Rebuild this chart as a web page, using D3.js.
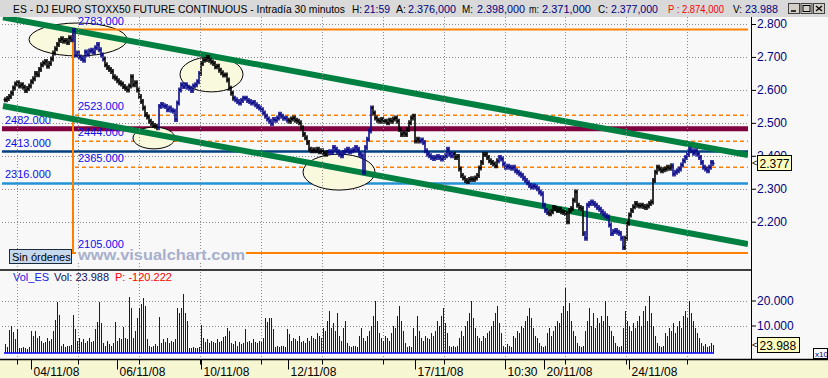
<!DOCTYPE html>
<html>
<head>
<meta charset="utf-8">
<script src="https://cdn.jsdelivr.net/npm/d3@7"></script>
<style>
  body { margin: 0; background: #f8f8f8; overflow: hidden; }
  text { font-family: "Liberation Sans", Arial, sans-serif; }
</style>
</head>
<body>
<svg id="chart" width="828" height="378"></svg>
<script>
'use strict';

// ------------------------------------------------------------
// data (30 minute bars, 03/11/08 - 25/11/08)
// ------------------------------------------------------------
const closes = [
  2570, 2574, 2580, 2590, 2606, 2618, 2622, 2612, 2616, 2608,
  2598, 2604, 2612, 2625, 2634, 2650, 2646, 2662, 2676, 2682,
  2686, 2672, 2680, 2694, 2712, 2725, 2738, 2750, 2755, 2748,
  2750, 2744, 2758, 2752, 2780, 2706, 2712, 2700, 2695, 2690,
  2715, 2708, 2718, 2720, 2714, 2728, 2738, 2722, 2706, 2694,
  2676, 2668, 2662, 2656, 2640, 2635, 2628, 2622, 2618, 2610,
  2605, 2600, 2612, 2640, 2616, 2622, 2600, 2580, 2565, 2545,
  2525, 2518, 2505, 2498, 2492, 2490, 2485, 2550, 2556, 2552,
  2550, 2540, 2545, 2538, 2535, 2510, 2560, 2600, 2616, 2610,
  2616, 2608, 2605, 2598, 2612, 2616, 2625, 2650, 2680, 2690,
  2692, 2698, 2690, 2685, 2680, 2670, 2672, 2660, 2652, 2645,
  2645, 2630, 2605, 2590, 2575, 2570, 2565, 2560, 2568, 2575,
  2575, 2568, 2565, 2560, 2562, 2555, 2550, 2545, 2540, 2530,
  2520, 2512, 2505, 2498, 2510, 2508, 2515, 2526, 2520, 2514,
  2514, 2508, 2505, 2512, 2515, 2508, 2505, 2500, 2485, 2465,
  2455, 2440, 2420, 2415, 2418, 2415, 2420, 2412, 2415, 2408,
  2405, 2410, 2412, 2410, 2425, 2420, 2412, 2405, 2400, 2410,
  2415, 2420, 2412, 2415, 2418, 2425, 2420, 2405, 2400, 2350,
  2425, 2450, 2475, 2545, 2530, 2515, 2508, 2505, 2510, 2505,
  2505, 2500, 2508, 2505, 2512, 2515, 2505, 2480, 2465, 2470,
  2465, 2480, 2500, 2515, 2520, 2445, 2450, 2445, 2448, 2440,
  2415, 2405, 2400, 2395, 2392, 2395, 2398, 2395, 2390, 2395,
  2400, 2420, 2405, 2400, 2405, 2395, 2398, 2360, 2340, 2333,
  2325, 2322, 2328, 2330, 2328, 2333, 2340, 2363, 2380, 2404,
  2404, 2395, 2385, 2380, 2375, 2370, 2385, 2395, 2390, 2375,
  2365, 2368, 2365, 2362, 2365, 2355, 2350, 2345, 2340, 2332,
  2325, 2318, 2310, 2305, 2308, 2305, 2300, 2290, 2285, 2250,
  2234, 2228, 2224, 2230, 2243, 2240, 2234, 2238, 2230, 2228,
  2225, 2200, 2234, 2240, 2265, 2290, 2250, 2243, 2240, 2164,
  2150, 2250, 2255, 2260, 2255, 2250, 2243, 2238, 2230, 2224,
  2218, 2214, 2190, 2164, 2170, 2173, 2168, 2164, 2150, 2122,
  2150, 2195, 2220, 2234, 2245, 2255, 2250, 2248, 2250, 2246,
  2243, 2248, 2255, 2260, 2325, 2350, 2365, 2360, 2355, 2358,
  2360, 2365, 2362, 2370, 2345, 2350, 2355, 2360, 2372, 2385,
  2395, 2404, 2420, 2415, 2408, 2415, 2405, 2395, 2380, 2365,
  2360, 2355, 2365, 2380, 2377
];

// volume in panel units (x10)
const volumes = [
  2800, 1500, 8400, 10000, 7600, 4500, 8800, 1200, 1000, 1500,
  1200, 800, 1500, 8000, 6000, 8000, 5000, 6000, 4000, 3000,
  3500, 5000, 4000, 4500, 8000, 12400, 19300, 14400, 2000, 2500,
  1500, 2000, 1800, 2200, 14400, 8800, 4000, 5000, 3500, 4500,
  3000, 4000, 5000, 3500, 4000, 8800, 11600, 19300, 11000, 3000,
  2000, 4000, 2500, 2000, 3000, 11600, 4000, 5000, 4500, 9500,
  5000, 4500, 21500, 17200, 5000, 8000, 13000, 17000, 18500, 21000,
  18000, 4500, 2000, 1500, 2000, 2500, 1800, 13600, 3000, 4500,
  3500, 5000, 3000, 4000, 3500, 4500, 17200, 15000, 17200, 22800,
  15000, 12000, 1200, 1000, 1500, 1200, 1000, 1500, 10400, 5000,
  3500, 4500, 3000, 4000, 3500, 3000, 4500, 3500, 4000, 5500,
  6000, 9000, 8000, 3000, 2500, 4000, 2000, 3500, 2500, 3000,
  8500, 3500, 4000, 3000, 4500, 3500, 3000, 4000, 3500, 5000,
  13000, 11600, 13000, 13000, 8500, 1500, 2000, 1500, 2000, 1800,
  1500, 8500, 6500, 4000, 5000, 4500, 4000, 6000, 3500, 4000,
  3000, 5000, 4000, 6000, 5000, 4500, 7000, 6000, 5000, 9000,
  8000, 12000, 16000, 9000, 11000, 8000, 15000, 6000, 4000, 9000,
  12000, 3000, 2000, 1500, 2000, 1800, 1500, 6000, 9000, 5000,
  4000, 6000, 8000, 10000, 14000, 20000, 12000, 7000, 5000, 4000,
  6000, 5000, 4000, 7000, 10000, 9000, 14000, 18000, 12000, 8000,
  3000, 1500, 2000, 1500, 9000, 6000, 14000, 8000, 5000, 4000,
  6000, 5000, 4500, 7000, 6000, 8000, 12000, 10000, 14000, 17000,
  11000, 7000, 2000, 1500, 2000, 1500, 2000, 5000, 8000, 6000,
  10000, 12000, 15000, 20000, 13000, 9000, 6000, 5000, 4000, 6000,
  5000, 7000, 8000, 10000, 12000, 15000, 18000, 11000, 7000, 2000,
  1500, 2500, 2000, 1500, 6000, 5000, 8000, 7000, 10000, 9000,
  12000, 14000, 17000, 13000, 9000, 6000, 5000, 3000, 2000, 1500,
  2000, 7000, 9000, 6000, 8000, 10000, 12000, 11000, 15000, 18000,
  25000, 16000, 19000, 12000, 8000, 6000, 3000, 2000, 1500, 2000,
  8000, 12000, 17000, 10000, 15000, 9000, 13000, 11000, 14000, 12000,
  20000, 14000, 10000, 8000, 6000, 3000, 2000, 1500, 2000, 9000,
  16000, 12000, 10000, 8000, 11000, 9000, 12000, 14000, 10000, 16000,
  18000, 12000, 22000, 15000, 10000, 6000, 3000, 2000, 1500, 2000,
  7000, 6000, 9000, 8000, 11000, 7000, 10000, 12000, 9000, 14000,
  16000, 13000, 20000, 15000, 12000, 9000, 7000, 5000, 3000, 2000,
  2500, 1500, 2000, 3000, 2398.8
];

// bar colour changes: [first bar, colour kind]
const colourSegments = [
  [0, 'black'], [34, 'blue'], [50, 'black'], [77, 'blue'], [98, 'black'],
  [115, 'blue'], [142, 'black'], [162, 'blue'], [184, 'black'], [208, 'blue'],
  [225, 'black'], [247, 'blue'], [272, 'black'], [290, 'blue'], [310, 'black'],
  [334, 'blue']
];

// horizontal support / resistance levels
const levelPrices = [2783, 2523, 2482, 2444, 2413, 2365, 2316, 2105];
const levelKinds  = ['pivot', 'dash', 'maroon', 'dash', 'navy', 'dash', 'sky', 'pivot'];
const pivotBar = 34;   // bar where the orange pivot lines start

// trend channel: [bar, price] end points
const channelUpper = [[-1, 2820], [371.5, 2402]];
const channelLower = [[-1, 2551], [371.5, 2132]];

// highlighted zones: [bar from, bar to, price high, price low]
const zones = [
  [12, 61, 2803, 2703],
  [87.5, 119, 2700, 2594],
  [64, 85, 2487, 2421],
  [149, 185, 2405, 2296]
];

const priceTicks = [2200, 2300, 2400, 2500, 2600, 2700, 2800];
const volumeTicks = [10000, 20000];
const gridBars = [6, 36.5, 67, 97.5, 128, 158.5, 189, 219.5, 250, 280, 310.5, 341];
const dateTickBars = [13, 56, 98, 141.5, 205, 250, 269.5, 312];
const dateTickLabels = ['04/11/08', '06/11/08', '10/11/08', '12/11/08', '17/11/08', '10:30', '20/11/08', '24/11/08'];

const lastPriceLabel = '2.377';
const lastVolumeLabel = '23.988';

// ------------------------------------------------------------
// drawing
// ------------------------------------------------------------
{ // start scope

const svg = d3.select('#chart');
const plotRight = 748;
const axisX = 752;
const priceTop = 17;
const panelSplit = 270;
const axisTop = 359.5;

const x = d3.scaleLinear().domain([0, closes.length - 1]).range([5, 713]);
const y = d3.scaleLinear().domain([2200, 2800]).range([221.7, 24]);
const yv = d3.scaleLinear().domain([0, 20000]).range([350.5, 300.5]);

const euro = d3.formatLocale({decimal: ',', thousands: '.', grouping: [3], currency: ['', '€']});
const fmtTick = euro.format(',.0f');

const navy = '#000080';
const orange = '#ff8000';

// backgrounds
svg.append('rect').attr('x', 0).attr('y', 0).attr('width', 828).attr('height', 378).attr('fill', '#f8f8f8');
svg.append('rect').attr('x', 0).attr('y', axisTop).attr('width', 828).attr('height', 378 - axisTop).attr('fill', '#f6f6d2');

// clip for the price panel
svg.append('clipPath').attr('id', 'priceClip')
  .append('rect').attr('x', 0).attr('y', priceTop).attr('width', plotRight).attr('height', panelSplit - priceTop);

const price = svg.append('g').attr('clip-path', 'url(#priceClip)');

// dotted grid
price.selectAll('.hgrid').data(priceTicks).enter().append('line')
  .attr('x1', 2).attr('x2', plotRight)
  .attr('y1', d => Math.round(y(d)) + 0.5).attr('y2', d => Math.round(y(d)) + 0.5)
  .attr('stroke', '#8a8a8a').attr('stroke-dasharray', '1,2');

svg.selectAll('.vgrid').data(gridBars).enter().append('line')
  .attr('x1', d => Math.round(x(d)) + 0.5).attr('x2', d => Math.round(x(d)) + 0.5)
  .attr('y1', priceTop).attr('y2', axisTop - 1)
  .attr('stroke', '#8a8a8a').attr('stroke-dasharray', '1,2');

svg.selectAll('.volgrid').data(volumeTicks).enter().append('line')
  .attr('x1', 2).attr('x2', plotRight)
  .attr('y1', d => Math.round(yv(d)) + 0.5).attr('y2', d => Math.round(yv(d)) + 0.5)
  .attr('stroke', '#8a8a8a').attr('stroke-dasharray', '1,2');

// level lines that sit under the highlighted zones
const levelStyle = {
  dash:   {stroke: orange, width: 1.5, dash: '4,3'},
  maroon: {stroke: '#800040', width: 5, dash: null},
  navy:   {stroke: '#00407f', width: 2.5, dash: null},
  sky:    {stroke: '#2393d8', width: 2.5, dash: null},
  pivot:  {stroke: orange, width: 2, dash: null}
};
const levels = levelPrices.map((p, i) => ({price: p, kind: levelKinds[i]}));

price.selectAll('.level').data(levels.filter(d => d.kind !== 'pivot')).enter().append('line')
  .attr('x1', d => d.kind === 'dash' ? x(pivotBar) + 2 : 2)
  .attr('x2', plotRight)
  .attr('y1', d => y(d.price)).attr('y2', d => y(d.price))
  .attr('stroke', d => levelStyle[d.kind].stroke)
  .attr('stroke-width', d => levelStyle[d.kind].width)
  .attr('stroke-dasharray', d => levelStyle[d.kind].dash);

// highlighted zones
price.selectAll('.zone').data(zones).enter().append('ellipse')
  .attr('cx', d => (x(d[0]) + x(d[1])) / 2)
  .attr('cy', d => (y(d[2]) + y(d[3])) / 2)
  .attr('rx', d => (x(d[1]) - x(d[0])) / 2)
  .attr('ry', d => (y(d[3]) - y(d[2])) / 2)
  .attr('fill', '#f9f9de').attr('stroke', '#000').attr('stroke-width', 1);

// orange pivot lines (the vertical joins the two of them)
const pivots = levels.filter(d => d.kind === 'pivot');
price.append('path')
  .attr('d', d3.line()([
    [plotRight, y(pivots[0].price)], [x(pivotBar), y(pivots[0].price)],
    [x(pivotBar), y(pivots[1].price)], [plotRight, y(pivots[1].price)]
  ]))
  .attr('fill', 'none').attr('stroke', orange).attr('stroke-width', 2);

// level labels
price.selectAll('.levelLabel').data(levels).enter().append('text')
  .attr('x', d => (d.kind === 'maroon' || d.kind === 'navy' || d.kind === 'sky') ? x(0) : x(pivotBar) + 5)
  .attr('y', d => y(d.price) - 5)
  .attr('font-size', 11).attr('fill', '#0c0cf0')
  .text(d => d.price + '.000');

// trend channel
price.selectAll('.channel').data([channelUpper, channelLower]).enter().append('line')
  .attr('x1', d => x(d[0][0])).attr('y1', d => y(d[0][1]))
  .attr('x2', d => x(d[1][0])).attr('y2', d => y(d[1][1]))
  .attr('stroke', '#008040').attr('stroke-width', 6);

// price bars (open = previous close)
const colourOf = i => {
  let c = 'black';
  colourSegments.forEach(s => { if (i >= s[0]) c = s[1]; });
  return c === 'blue' ? '#0a0a8a' : '#000000';
};
const bars = closes.map((c, i) => ({i: i, open: i > 0 ? closes[i - 1] : c, close: c}));

const barG = price.selectAll('.bar').data(bars).enter().append('g')
  .attr('stroke', d => colourOf(d.i)).attr('stroke-width', 1.6);
barG.append('line')
  .attr('x1', d => x(d.i)).attr('x2', d => x(d.i))
  .attr('y1', d => y(Math.max(d.open, d.close)) - 2.5)
  .attr('y2', d => y(Math.min(d.open, d.close)) + 2.5);
barG.append('line')
  .attr('x1', d => x(d.i) - 1.5).attr('x2', d => x(d.i))
  .attr('y1', d => y(d.open)).attr('y2', d => y(d.open));
barG.append('line')
  .attr('x1', d => x(d.i)).attr('x2', d => x(d.i) + 1.5)
  .attr('y1', d => y(d.close)).attr('y2', d => y(d.close));

// "Sin órdenes" box and watermark
svg.append('rect').attr('x', 9.5).attr('y', 249.5).attr('width', 62).attr('height', 14)
  .attr('fill', '#c6d8ee').attr('stroke', '#1c2c3c');
svg.append('text').attr('x', 12).attr('y', 260.5).attr('font-size', 11).attr('fill', '#000').text('Sin órdenes');
svg.append('rect').attr('x', 76).attr('y', 250).attr('width', 170).attr('height', 11).attr('fill', '#f8f8f8');
svg.append('text').attr('x', 78).attr('y', 260).attr('font-size', 15).attr('font-weight', 'bold')
  .attr('font-family', '"DejaVu Sans", sans-serif')
  .attr('textLength', 167).attr('lengthAdjust', 'spacingAndGlyphs')
  .attr('fill', '#a7afcc').text('www.visualchart.com');

// volume bars
svg.selectAll('.vol').data(volumes).enter().append('line')
  .attr('x1', (d, i) => Math.round(x(i)) + 0.5).attr('x2', (d, i) => Math.round(x(i)) + 0.5)
  .attr('y1', 353).attr('y2', d => yv(d))
  .attr('stroke', '#0000ff').attr('stroke-width', 1).attr('shape-rendering', 'crispEdges');
svg.append('line').attr('x1', 4).attr('x2', x(closes.length - 1) + 1).attr('y1', 353).attr('y2', 353)
  .attr('stroke', '#0000ff').attr('stroke-width', 1.5);

// volume title
const volTitle = svg.append('text').attr('x', 13).attr('y', 281).attr('font-size', 11);
volTitle.append('tspan').attr('fill', '#1a1ae0').text('Vol_ES');
volTitle.append('tspan').attr('x', 54).attr('fill', '#10105a').text('Vol: ' + lastVolumeLabel);
volTitle.append('tspan').attr('x', 115).attr('fill', '#ff0000').text('P: -120.222');

// panel frames
svg.append('line').attr('x1', 0).attr('x2', axisX).attr('y1', panelSplit).attr('y2', panelSplit)
  .attr('stroke', '#000').attr('stroke-width', 1.5);
svg.append('line').attr('x1', axisX - 0.5).attr('x2', axisX - 0.5).attr('y1', priceTop).attr('y2', axisTop)
  .attr('stroke', '#000');
svg.append('line').attr('x1', 0).attr('x2', 828).attr('y1', axisTop).attr('y2', axisTop)
  .attr('stroke', '#000').attr('stroke-width', 1.5);

// price axis on the right
const priceAxis = d3.axisRight(y).tickValues(priceTicks).tickSize(4).tickPadding(1).tickFormat(fmtTick);
const pa = svg.append('g').attr('transform', `translate(${axisX},0)`).call(priceAxis);
pa.select('.domain').remove();
pa.selectAll('text').attr('font-size', 12).attr('fill', navy).attr('font-family', '"Liberation Sans", Arial, sans-serif');
pa.selectAll('line').attr('stroke', '#000');

const volAxis = d3.axisRight(yv).tickValues(volumeTicks).tickSize(4).tickPadding(1).tickFormat(fmtTick);
const va = svg.append('g').attr('transform', `translate(${axisX},0)`).call(volAxis);
va.select('.domain').remove();
va.selectAll('text').attr('font-size', 12).attr('fill', navy).attr('font-family', '"Liberation Sans", Arial, sans-serif');
va.selectAll('line').attr('stroke', '#000');

// last value markers
function marker(yPos, label, width) {
  svg.append('text').attr('x', axisX).attr('y', yPos + 3).attr('font-size', 9).attr('fill', '#000').text('<');
  svg.append('rect').attr('x', axisX + 5.5).attr('y', Math.round(yPos) - 7.5).attr('width', width).attr('height', 15)
    .attr('fill', '#ffffc0').attr('stroke', '#000');
  svg.append('text').attr('x', axisX + 7.5).attr('y', Math.round(yPos) + 4.5).attr('font-size', 12).attr('fill', '#000').text(label);
}
marker(y(closes[closes.length - 1]), lastPriceLabel, 34);
marker(yv(volumes[volumes.length - 1]), lastVolumeLabel, 42);

svg.append('rect').attr('x', 813.5).attr('y', 348.5).attr('width', 14).attr('height', 10)
  .attr('fill', '#f8f8f8').attr('stroke', '#000');
svg.append('text').attr('x', 815).attr('y', 356.5).attr('font-size', 8).attr('fill', navy).text('x10');

// date axis
const dateAxis = d3.axisBottom(x).tickValues(dateTickBars).tickSize(0).tickFormat((d, i) => dateTickLabels[i]);
const da = svg.append('g').attr('transform', `translate(0,${axisTop})`).call(dateAxis);
da.select('.domain').remove();
da.selectAll('text').attr('font-size', 12).attr('fill', '#000').attr('text-anchor', 'start')
  .attr('font-family', '"Liberation Sans", Arial, sans-serif')
  .attr('dx', 2).attr('dy', 0).attr('y', 16);
svg.selectAll('.dtick').data(dateTickBars).enter().append('line')
  .attr('x1', d => Math.round(x(d)) + 0.5).attr('x2', d => Math.round(x(d)) + 0.5)
  .attr('y1', axisTop).attr('y2', axisTop + 10).attr('stroke', '#000');
svg.selectAll('.gtick').data(gridBars).enter().append('line')
  .attr('x1', d => Math.round(x(d)) + 0.5).attr('x2', d => Math.round(x(d)) + 0.5)
  .attr('y1', axisTop).attr('y2', axisTop + 5).attr('stroke', '#000');

// title bar
svg.append('rect').attr('x', 0).attr('y', 0).attr('width', 828).attr('height', priceTop).attr('fill', '#d9d9d9');
const titleParts = [
  [13, 'ES - DJ EURO STOXX50 FUTURE CONTINUOUS - Intradía 30 minutos', '#000', 332],
  [352, 'H:', '#000', 10], [364, '21:59', navy, 26],
  [396, 'A:', '#000', 10], [408, '2.376,000', navy, 48],
  [462, 'M:', '#000', 11], [477, '2.398,000', navy, 48],
  [529, 'm:', '#000', 10], [542, '2.371,000', navy, 49],
  [598, 'C:', '#000', 10], [611, '2.377,000', navy, 47],
  [668, 'P : 2.874,000', '#ff0000', 56],
  [733, 'V:', '#000', 9], [745, lastVolumeLabel, navy, 33]
];
titleParts.forEach(p => {
  svg.append('text').attr('x', p[0]).attr('y', 12.5).attr('font-size', 11).attr('fill', p[2])
    .attr('textLength', p[3]).attr('lengthAdjust', 'spacingAndGlyphs').text(p[1]);
});

// window buttons
const buttons = svg.selectAll('.btn').data(['min', 'max', 'close']).enter().append('g')
  .attr('transform', (d, i) => `translate(${788 + i * 12.5},3)`);
buttons.append('rect').attr('x', 0.5).attr('y', 0.5).attr('width', 11).attr('height', 10)
  .attr('fill', '#d4d0c8').attr('stroke', '#404040');
buttons.filter(d => d === 'min').append('line').attr('x1', 3).attr('x2', 8).attr('y1', 8).attr('y2', 8)
  .attr('stroke', '#000').attr('stroke-width', 1.5);
buttons.filter(d => d === 'max').append('rect').attr('x', 2.5).attr('y', 2.5).attr('width', 7).attr('height', 6)
  .attr('fill', 'none').attr('stroke', '#000');
buttons.filter(d => d === 'close').append('path').attr('d', 'M3,3L9,8M9,3L3,8')
  .attr('stroke', '#000').attr('stroke-width', 1.3);

} // end scope
</script>
</body>
</html>
